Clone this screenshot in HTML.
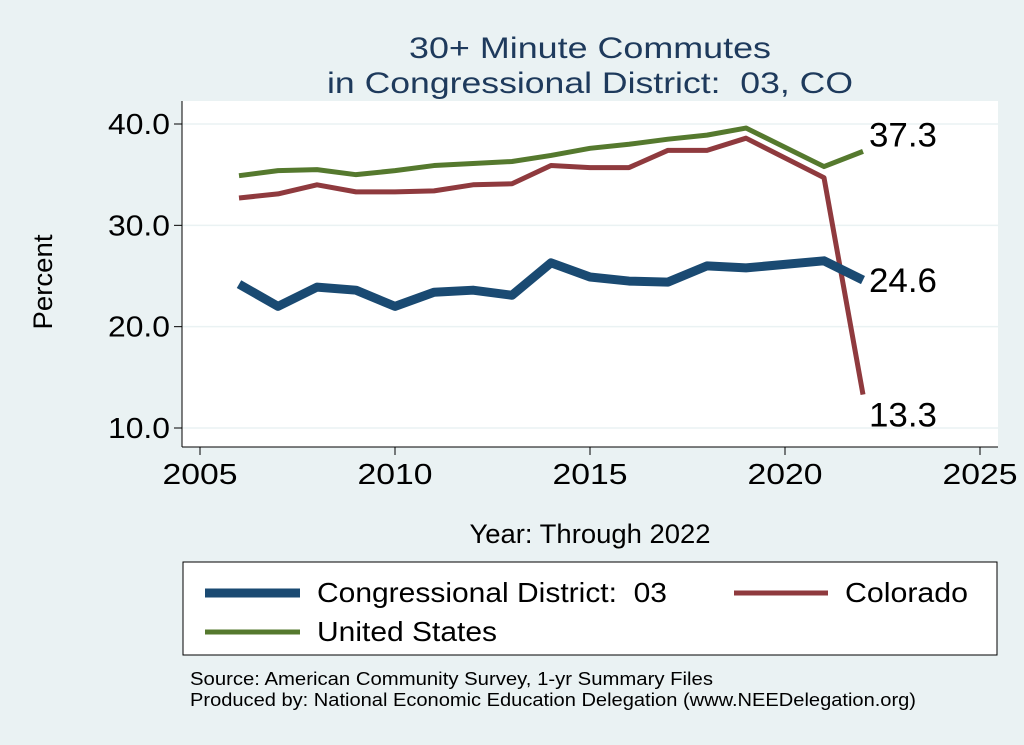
<!DOCTYPE html>
<html><head><meta charset="utf-8"><style>
body{margin:0;background:#eaf2f3;}
svg{display:block;font-family:"Liberation Sans",Arial,sans-serif;}
</style></head><body>
<svg id="chart" width="1024" height="745" viewBox="0 0 1024 745">
<rect x="0" y="0" width="1024" height="745" fill="#eaf2f3"/>
<text x="590" y="58" font-size="30" fill="#1e3a5c" text-anchor="middle" textLength="362" lengthAdjust="spacingAndGlyphs">30+ Minute Commutes</text>
<text x="590" y="93" font-size="30" fill="#1e3a5c" text-anchor="middle" textLength="526" lengthAdjust="spacingAndGlyphs">in Congressional District:&#160; 03, CO</text>
<rect x="182" y="101" width="816" height="346" fill="#ffffff"/>
<g id="grid"></g><g id="axes"></g><g id="series"></g>
<text x="52" y="282" font-size="27" fill="#000" text-anchor="middle" textLength="95" lengthAdjust="spacingAndGlyphs" transform="rotate(-90 52 282)">Percent</text>
<text x="590" y="543" font-size="27" fill="#000" text-anchor="middle" textLength="241" lengthAdjust="spacingAndGlyphs">Year: Through 2022</text>
<rect x="183" y="562" width="814" height="93" fill="#fff" stroke="#000" stroke-width="1"/>
<g><line x1="205" y1="593" x2="300" y2="593" stroke="#1a4a72" stroke-width="9"/><text x="317" y="602" font-size="28" textLength="350" lengthAdjust="spacingAndGlyphs">Congressional District:&#160; 03</text></g>
<g><line x1="734" y1="593" x2="828" y2="593" stroke="#8f3a3e" stroke-width="5"/><text x="845" y="602" font-size="28" textLength="123" lengthAdjust="spacingAndGlyphs">Colorado</text></g>
<g><line x1="205" y1="632" x2="300" y2="632" stroke="#55792e" stroke-width="5"/><text x="317" y="641" font-size="28" textLength="180" lengthAdjust="spacingAndGlyphs">United States</text></g>
<text x="190" y="685" font-size="18" textLength="523" lengthAdjust="spacingAndGlyphs">Source: American Community Survey, 1-yr Summary Files</text>
<text x="190" y="706" font-size="18" textLength="726" lengthAdjust="spacingAndGlyphs">Produced by: National Economic Education Delegation (www.NEEDelegation.org)</text>
</svg>
<script>
const years=[2006,2007,2008,2009,2010,2011,2012,2013,2014,2015,2016,2017,2018,2019,2021,2022];
const district=[24.2,22.0,23.9,23.6,22.0,23.4,23.6,23.1,26.3,24.9,24.5,24.4,26.0,25.8,26.5,24.6];
const colorado=[32.7,33.1,34.0,33.3,33.3,33.4,34.0,34.1,35.9,35.7,35.7,37.4,37.4,38.6,34.7,13.3];
const unitedStates=[34.9,35.4,35.5,35.0,35.4,35.9,36.1,36.3,36.9,37.6,38.0,38.5,38.9,39.6,35.8,37.3];
const xTicks=[2005,2010,2015,2020,2025];
const yTicks=[10,20,30,40];
const NS="http://www.w3.org/2000/svg";
function xs(v){return 200+(v-2005)*39;}
function ys(v){return 428-(v-10)*(304/30);}
function mk(t,a,p){const e=document.createElementNS(NS,t);for(const k in a)e.setAttribute(k,a[k]);p.appendChild(e);return e;}
const grid=document.getElementById('grid'),axes=document.getElementById('axes'),ser=document.getElementById('series');
yTicks.forEach(v=>{
 const g=mk('line',{x1:182,x2:998,y1:ys(v),y2:ys(v),stroke:'#eaf2f3','stroke-width':1.5},grid);
 
 
 const t=mk('line',{x1:174,x2:182,y1:ys(v),y2:ys(v),stroke:'#000'},axes);
 
 
 const l=mk('text',{x:170,y:ys(v)+10,'font-size':29,'text-anchor':'end',textLength:62,lengthAdjust:'spacingAndGlyphs'},axes);l.textContent=v.toFixed(1);
 
 
});
xTicks.forEach(v=>{
 const t=mk('line',{x1:xs(v),x2:xs(v),y1:447,y2:455,stroke:'#000'},axes);
 
 
 const l=mk('text',{x:xs(v),y:484,'font-size':29,'text-anchor':'middle',textLength:75,lengthAdjust:'spacingAndGlyphs'},axes);l.textContent=v;
 
 
});
const ya=mk('line',{x1:182,x2:182,y1:101,y2:447,stroke:'#000'},axes);


const xa=mk('line',{x1:182,x2:998,y1:447,y2:447,stroke:'#000'},axes);


function line(vals,color,w,name){
 const p=mk('polyline',{points:vals.map((v,i)=>xs(years[i])+','+ys(v)).join(' '),fill:'none',stroke:color,'stroke-width':w,'stroke-linejoin':'round'},ser);
 
 
}
line(unitedStates,'#55792e',5,'united-states-line');
line(colorado,'#8f3a3e',5,'colorado-line');
line(district,'#1a4a72',9,'district-line');
const n=years.length-1;
[[unitedStates[n],-5,'united-states-end-label'],[district[n],12,'district-end-label'],[colorado[n],32,'colorado-end-label']].forEach(([v,dy,nm])=>{
 const t=mk('text',{x:xs(years[n])+6,y:ys(v)+dy,'font-size':34,textLength:68,lengthAdjust:'spacingAndGlyphs'},ser);t.textContent=v.toFixed(1);
 
 
});
</script>
</body></html>
